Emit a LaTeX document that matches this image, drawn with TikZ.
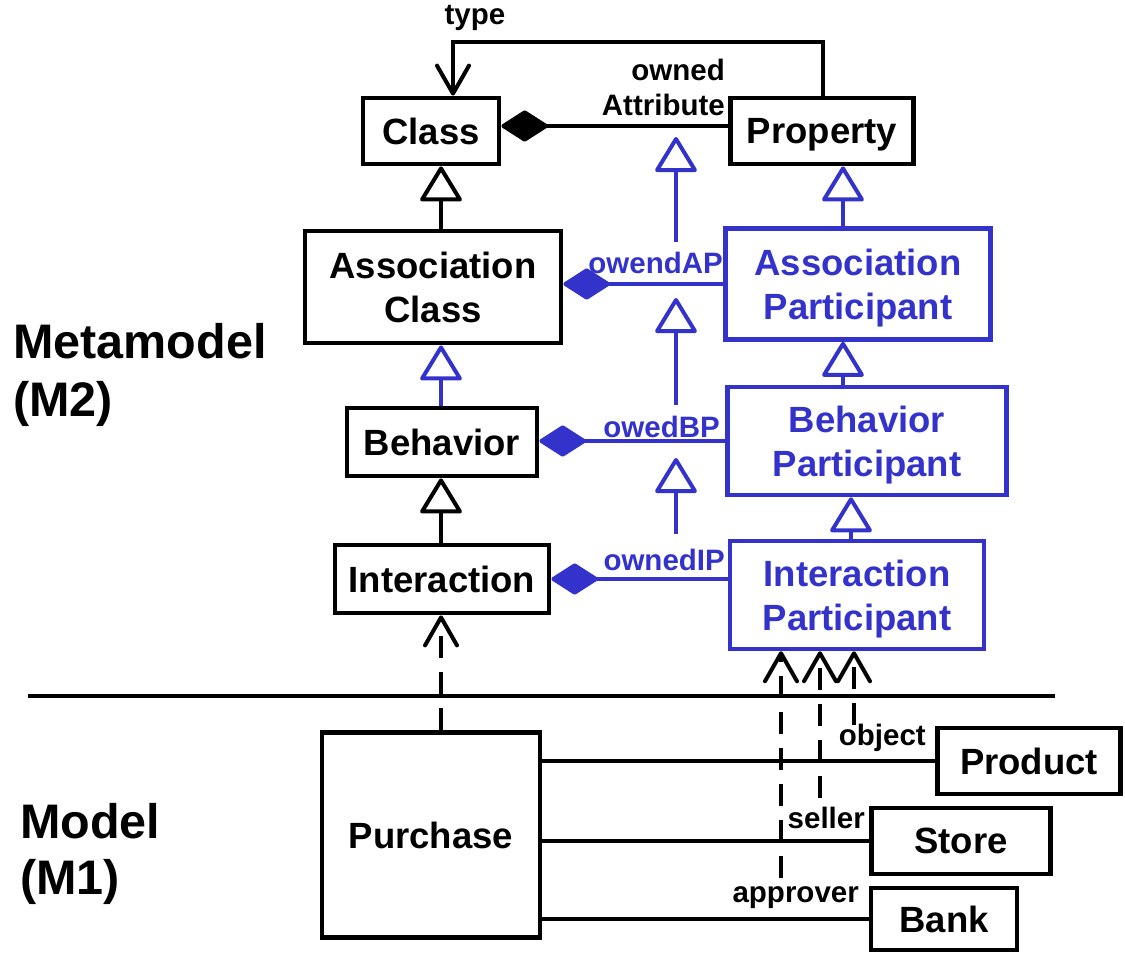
\documentclass[tikz,border=0pt]{standalone}
\usepackage{fontspec}
\setmainfont{Liberation Sans}
\usetikzlibrary{arrows.meta}
\definecolor{partblue}{RGB}{51,51,204}
\begin{document}
\begin{tikzpicture}[x=1pt,y=-1pt,
  box/.style={draw, line width=4.8pt, inner sep=0pt, align=center, text depth=0pt,
    font=\fontsize{36.5}{44}\selectfont\bfseries},
  pbox/.style={box, line width=4.5pt, draw=partblue, text=partblue},
  lbl/.style={inner sep=0pt, font=\fontsize{29.5}{35}\selectfont\bfseries},
  plbl/.style={lbl, text=partblue},
  level/.style={inner sep=0pt, anchor=base west, font=\fontsize{48.5}{56}\selectfont\bfseries},
  conn/.style={line width=4pt},
  gen/.style={conn, -{Triangle[length=37pt,width=44pt,fill=white,round]}},
  comp/.style={conn, -{Diamond[length=50pt,width=32pt,round]}},
  nav/.style={conn, -{Straight Barb[length=28pt,width=32pt,round]}},
  dep/.style={nav, dash pattern=on 22pt off 14pt},
]
\useasboundingbox (0,0) rectangle (1125,954);

% level captions
\node[level] (mm)  at (13,358) {Metamodel};
\node[level] (mm2) at (13,416) {(M2)};
\node[level] (md)  at (20,838) {Model};
\node[level] (md1) at (20,894) {(M1)};

% metamodel classes
\node[box, minimum width=136pt, minimum height=66pt]  (class)    at (431,131) {Class};
\node[box, minimum width=183pt, minimum height=66pt]  (property) at (822,131) {Property};
\node[box, minimum width=256pt, minimum height=112pt] (assoc)    at (433,287) {Association\\Class};
\node[box, minimum width=190pt, minimum height=68pt]  (behavior) at (442,442) {Behavior};
\node[box, minimum width=214pt, minimum height=68pt]  (inter)    at (442,579) {Interaction};

% participant classes
\node[pbox, minimum width=265pt, minimum height=111pt] (ap) at (858,284) {Association\\Participant};
\node[pbox, minimum width=279pt, minimum height=108pt] (bp) at (867,441) {Behavior\\Participant};
\node[pbox, minimum width=254pt, minimum height=108pt] (ip) at (857,595) {Interaction\\Participant};

% model elements
\node[box, minimum width=218pt, minimum height=205pt] (purchase) at (431,835) {Purchase};
\node[box, minimum width=183pt, minimum height=66pt]  (product)  at (1029,761) {Product};
\node[box, minimum width=179pt, minimum height=66pt]  (store)    at (961,841) {Store};
\node[box, minimum width=146pt, minimum height=62pt]  (bank)     at (944,919) {Bank};

% separator between the two levels
\coordinate (sepL) at (28,696);
\coordinate (sepR) at (1055,696);
\draw[conn] (sepL) -- (sepR);

% reference columns
\coordinate (gx) at (441,0);
\coordinate (px) at (843,0);
\coordinate (qx) at (851,0);

% type association
\coordinate (t1) at (823,42);
\coordinate (t2) at (453,42);
\node[lbl] (typel) at (475,18) {type};
\draw[nav, line join=miter] (property.north -| t1) |- (t2) -- (class.north -| t2);

% ownedAttribute composition
\node[lbl, align=right, anchor=east] (oattr) at (725,87) {owned\\Attribute};
\draw[comp] ([yshift=5pt]property.west) -- ([yshift=5pt]class.east);

% generalizations of the metaclasses
\draw[gen] (assoc.north -| gx) -- (class.south -| gx);
\draw[gen, draw=partblue] (behavior.north -| gx) -- (assoc.south -| gx);
\draw[gen] (inter.north -| gx) -- (behavior.south -| gx);
\draw[gen, draw=partblue] (ap.north -| px) -- (property.south -| px);
\draw[gen, draw=partblue] (bp.north -| px) -- (ap.south -| px);
\draw[gen, draw=partblue] (ip.north -| qx) -- (bp.south -| qx);

% participant compositions
\node[plbl, anchor=east] (lap) at (723,263) {owendAP};
\node[plbl, anchor=east] (lbp) at (720,427) {owedBP};
\node[plbl, anchor=east] (lip) at (725,560) {ownedIP};
\draw[comp, draw=partblue, fill=partblue] (ap.west) -- (ap.west -| assoc.east);
\draw[comp, draw=partblue, fill=partblue] (bp.west) -- (bp.west -| behavior.east);
\draw[comp, draw=partblue, fill=partblue] (inter.east -| ip.west) -- (inter.east);

% association generalizations
\coordinate (a1s) at (676,242); \coordinate (a1e) at (676,137);
\coordinate (a2s) at (676,405); \coordinate (a2e) at (676,298);
\coordinate (a3s) at (676,534); \coordinate (a3e) at (676,458);
\draw[gen, draw=partblue] (a1s) -- (a1e);
\draw[gen, draw=partblue] (a2s) -- (a2e);
\draw[gen, draw=partblue] (a3s) -- (a3e);

% instance-of dependency
\draw[dep] (purchase.north -| gx) -- (inter.south -| gx);

% model associations
\node[lbl, anchor=east] (lobj)  at (926,738) {object};
\node[lbl, anchor=east] (lsel)  at (865,818) {seller};
\node[lbl, anchor=east] (lappr) at (859,898) {approver};
\draw[conn] (product.west) -- (product.west -| purchase.east);
\draw[conn] (store.west) -- (store.west -| purchase.east);
\draw[conn] (bank.west) -- (bank.west -| purchase.east);

% role bindings to the participant
\coordinate (d1) at (781,878);
\coordinate (d2) at (820,798);
\coordinate (d3) at (854,725);
\draw[dep] (d1) -- (ip.south -| d1);
\draw[dep] (d2) -- (ip.south -| d2);
\draw[dep] (d3) -- (ip.south -| d3);
\end{tikzpicture}
\end{document}
